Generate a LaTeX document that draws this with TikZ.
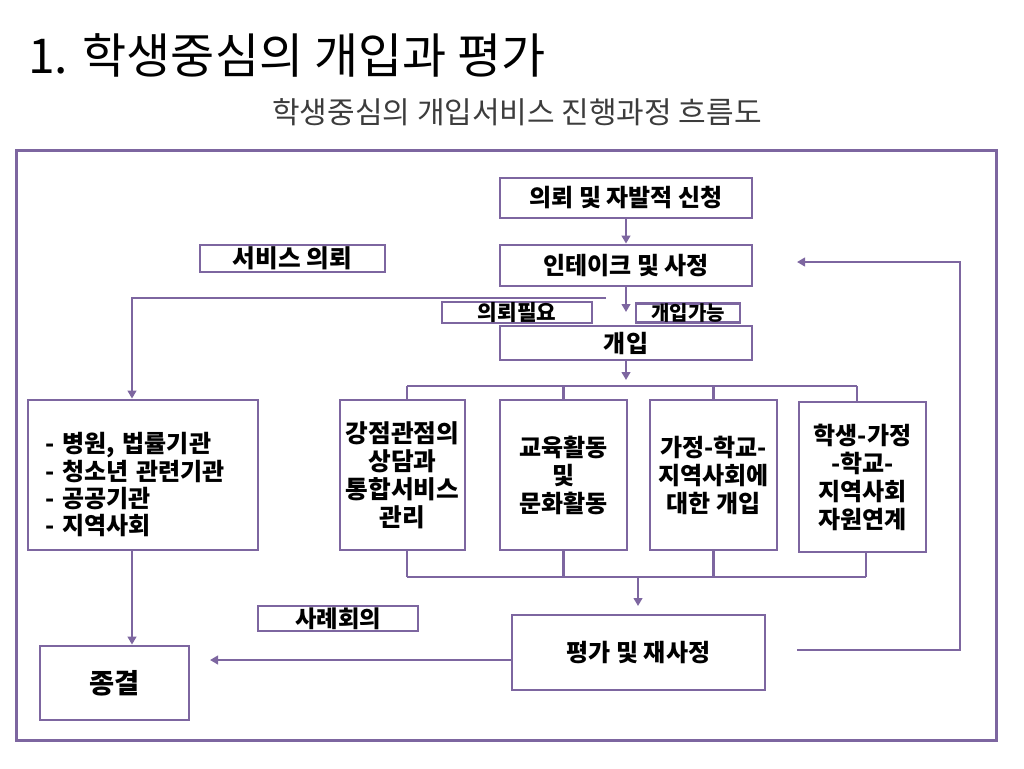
\documentclass[tikz,border=0pt]{standalone}
\usepackage{fontspec}
\setmainfont{Noto Sans CJK KR}
\usetikzlibrary{arrows.meta}
\definecolor{pur}{RGB}{125,102,160}
\definecolor{subgray}{RGB}{60,60,60}
\tikzset{
  box/.style={draw=pur, line width=2.1pt, inner sep=0pt, align=center,
    font=\fontsize{18}{21}\selectfont\bfseries, text=black},
  conn/.style={draw=pur, line width=2pt},
  arr/.style={conn, -{Triangle[length=6pt,width=6.5pt]}},
}
\begin{document}
\begin{tikzpicture}[x=0.75pt,y=-0.75pt]
\useasboundingbox (0,0) rectangle (1024,768);
% titles
\node[anchor=west, inner sep=0pt, font=\fontsize{36}{40}\selectfont] (title) at (28,55) {1. 학생중심의 개입과 평가};
\node[inner sep=0pt, text=subgray, font=\fontsize{22.5}{26}\selectfont] (sub) at (517,112) {학생중심의 개입서비스 진행과정 흐름도};
% frame
\node[draw=pur, line width=2.25pt, minimum width=735pt, minimum height=442.5pt, inner sep=0pt] (frame) at (506,445) {};
% boxes
\node[box, minimum width=189pt, minimum height=30pt] (req) at (626,198) {의뢰 및 자발적 신청};
\node[box, minimum width=189pt, minimum height=30.75pt] (intake) at (626,265.5) {인테이크 및 사정};
\node[box, minimum width=138.75pt, minimum height=20.25pt, font=\fontsize{18.5}{21}\selectfont\bfseries] (svc) at (292.5,258.5) {서비스 의뢰};
\node[box, minimum width=112.5pt, minimum height=15.75pt, font=\fontsize{16}{18}\selectfont\bfseries] (need) at (517,312.5) {의뢰필요};
\node[box, minimum width=78pt, minimum height=14.25pt, font=\fontsize{15}{17}\selectfont\bfseries] (able) at (688,313) {개입가능};
\node[box, minimum width=189pt, minimum height=25.5pt] (interv) at (626,343) {개입};
\node[box, minimum width=93.75pt, minimum height=112.5pt, font=\fontsize{18.5}{21}\selectfont\bfseries] (b1) at (402.5,475) {강점관점의\\상담과\\통합서비스\\관리};
\node[box, minimum width=95.25pt, minimum height=112.5pt] (b2) at (563.5,475) {교육활동\\및\\문화활동};
\node[box, minimum width=95.25pt, minimum height=112.5pt] (b3) at (713.5,475) {가정-학교-\\지역사회에\\대한 개입};
\node[box, minimum width=95.25pt, minimum height=112.5pt] (b4) at (862.5,477) {학생-가정\\-학교-\\지역사회\\자원연계};
\node[box, align=left, text width=147pt, inner xsep=12.75pt, minimum height=112.5pt, font=\fontsize{18}{20.5}\selectfont\bfseries] (left) at (143,475) {\rule{0pt}{30pt}- 병원, 법률기관\\- 청소년 관련기관\\- 공공기관\\- 지역사회};
\node[box, minimum width=111.75pt, minimum height=55.5pt, font=\fontsize{20.5}{24}\selectfont\bfseries] (end) at (114.5,683) {종결};
\node[box, minimum width=120pt, minimum height=18.75pt, font=\fontsize{17.5}{20}\selectfont\bfseries] (case) at (338,618.5) {사례회의};
\node[box, minimum width=189.75pt, minimum height=56.25pt] (eval) at (638.5,652.5) {평가 및 재사정};
% coordinates
\coordinate (a1) at (626,312);
\coordinate (r1) at (606,298);
\coordinate (r2) at (132,298);
\coordinate (a2) at (626,380);
\coordinate (t1) at (407,386);
\coordinate (t4) at (857,386);
\coordinate (u1) at (407,577);
\coordinate (u4) at (866,577);
\coordinate (m1) at (638,577);
\coordinate (m2) at (638,606);
\coordinate (e1) at (210,660);
\coordinate (f1) at (797,650);
\coordinate (f2) at (960,650);
\coordinate (f3) at (960,262);
\coordinate (f4) at (797,262);
% connectors
\draw[arr] (req) -- (intake);
\draw[arr] (intake.south) -- (a1);
\draw[arr] (r1) -- (r2) -- (r2 |- left.north);
\draw[arr] (interv.south) -- (a2);
\draw[conn] (t1) -- (t4);
\draw[conn] (t1) -- (t1 |- b1.north);
\draw[conn] (b2.north |- t1) -- (b2.north);
\draw[conn] (b3.north |- t1) -- (b3.north);
\draw[conn] (t4) -- (t4 |- b4.north);
\draw[conn] (u1) -- (u4);
\draw[conn] (u1) -- (u1 |- b1.south);
\draw[conn] (b2.south |- u1) -- (b2.south);
\draw[conn] (b3.south |- u1) -- (b3.south);
\draw[conn] (u4) -- (u4 |- b4.south);
\draw[arr] (m1) -- (m2);
\draw[arr] (r2 |- left.south) -- (r2 |- end.north);
\draw[arr] (e1 -| eval.west) -- (e1);
\draw[arr] (f1) -- (f2) -- (f3) -- (f4);
\end{tikzpicture}
\end{document}
